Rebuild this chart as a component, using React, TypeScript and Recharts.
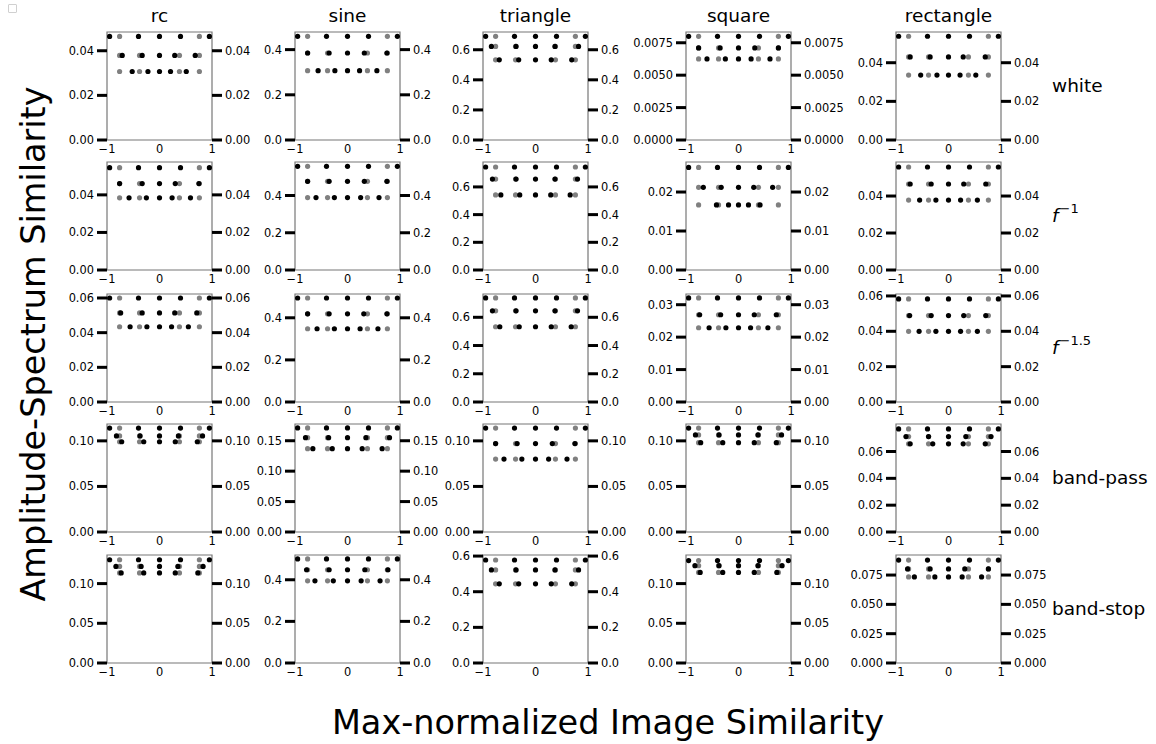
import { ScatterChart, Scatter, XAxis, YAxis, ReferenceArea } from 'recharts';

// waveform columns and noise-spectrum rows
const columns = ['rc', 'sine', 'triangle', 'square', 'rectangle'];
const rowNames = ['white', 'f^-1', 'f^-1.5', 'band-pass', 'band-stop'];

// y axis top per panel [row][col]
const yMax = [
    [0.0484, 0.478, 0.718, 0.00833, 0.0559],
    [0.0575, 0.58, 0.78, 0.0277, 0.0584],
    [0.0623, 0.513, 0.765, 0.0333, 0.0611],
    [0.1185, 0.1775, 0.1185, 0.1185, 0.0805],
    [0.136, 0.519, 0.606, 0.136, 0.0921],
];

const yTicks = [
    [[0, 0.02, 0.04], [0, 0.2, 0.4], [0, 0.2, 0.4, 0.6], [0, 0.0025, 0.005, 0.0075], [0, 0.02, 0.04]],
    [[0, 0.02, 0.04], [0, 0.2, 0.4], [0, 0.2, 0.4, 0.6], [0, 0.01, 0.02], [0, 0.02, 0.04]],
    [[0, 0.02, 0.04, 0.06], [0, 0.2, 0.4], [0, 0.2, 0.4, 0.6], [0, 0.01, 0.02, 0.03], [0, 0.02, 0.04, 0.06]],
    [[0, 0.05, 0.1], [0, 0.05, 0.1, 0.15], [0, 0.05, 0.1], [0, 0.05, 0.1], [0, 0.02, 0.04, 0.06]],
    [[0, 0.05, 0.1], [0, 0.2, 0.4], [0, 0.2, 0.4, 0.6], [0, 0.05, 0.1], [0, 0.025, 0.05, 0.075]],
];

const tickDecimals = [
    [2, 1, 1, 4, 2],
    [2, 1, 1, 2, 2],
    [2, 1, 1, 2, 2],
    [2, 2, 2, 2, 2],
    [2, 1, 1, 2, 3],
];

// similarity of the three dot rows (top, middle, bottom)
const levels = [
    [[0.0464, 0.0379, 0.0307], [0.459, 0.385, 0.307], [0.689, 0.622, 0.533], [0.008, 0.0071, 0.00625], [0.0537, 0.043, 0.0336]],
    [[0.0545, 0.046, 0.0384], [0.557, 0.476, 0.389], [0.744, 0.657, 0.542], [0.0263, 0.0212, 0.0167], [0.0557, 0.0465, 0.0378]],
    [[0.06, 0.0514, 0.0434], [0.494, 0.419, 0.348], [0.737, 0.646, 0.533], [0.0321, 0.0269, 0.0229], [0.0583, 0.0489, 0.04]],
    [[0.114, 0.1054, 0.099], [0.171, 0.155, 0.137], [0.114, 0.097, 0.08], [0.114, 0.1065, 0.098], [0.0768, 0.0711, 0.0657]],
    [[0.13, 0.1216, 0.1134], [0.5, 0.448, 0.395], [0.578, 0.522, 0.444], [0.129, 0.1225, 0.114], [0.0878, 0.0802, 0.0734]],
];

// x positions of the grey and black markers
const topBlackX = [-0.95, -0.4, 0, 0.4, 0.95];
const topGreyX = [-0.76, 0.76];
const greyX = [-0.76, -0.38, 0.38, 0.76];

const blackMidX = [
    [[-0.71, -0.33, 0, 0.29, 0.68], [-0.76, -0.35, 0, 0.32, 0.75], [-0.84, -0.37, 0, 0.37, 0.82], [-0.76, -0.35, 0, 0.31, 0.76], [-0.73, -0.35, 0, 0.28, 0.7]],
    [[-0.76, -0.33, 0, 0.3, 0.75], [-0.76, -0.35, 0, 0.32, 0.75], [-0.82, -0.37, 0, 0.37, 0.8], [-0.67, -0.33, 0, 0.29, 0.65], [-0.73, -0.33, 0, 0.29, 0.71]],
    [[-0.74, -0.33, 0, 0.29, 0.71], [-0.76, -0.35, 0, 0.31, 0.75], [-0.82, -0.37, 0, 0.37, 0.8], [-0.74, -0.34, 0, 0.3, 0.72], [-0.74, -0.33, 0, 0.29, 0.71]],
    [[-0.82, -0.37, 0, 0.36, 0.82], [-0.8, -0.36, 0, 0.35, 0.8], [-0.76, -0.35, 0, 0.32, 0.75], [-0.82, -0.37, 0, 0.37, 0.82], [-0.81, -0.38, 0, 0.33, 0.81]],
    [[-0.83, -0.35, 0, 0.35, 0.83], [-0.78, -0.35, 0, 0.33, 0.77], [-0.84, -0.37, 0, 0.37, 0.82], [-0.83, -0.37, 0, 0.37, 0.83], [-0.78, -0.35, 0, 0.31, 0.76]],
];

const blackLowX = [
    [[-0.52, -0.22, 0, 0.21, 0.51], [-0.56, -0.24, 0, 0.23, 0.56], [-0.69, -0.32, 0, 0.3, 0.69], [-0.6, -0.25, 0, 0.24, 0.6], [-0.53, -0.22, 0, 0.22, 0.52]],
    [[-0.58, -0.25, 0, 0.24, 0.59], [-0.6, -0.25, 0, 0.25, 0.6], [-0.66, -0.3, 0, 0.29, 0.66], [-0.42, -0.19, 0, 0.19, 0.41], [-0.55, -0.24, 0, 0.23, 0.55]],
    [[-0.56, -0.24, 0, 0.23, 0.55], [-0.58, -0.25, 0, 0.24, 0.58], [-0.68, -0.31, 0, 0.3, 0.68], [-0.56, -0.24, 0, 0.23, 0.56], [-0.56, -0.24, 0, 0.23, 0.55]],
    [[-0.72, -0.3, 0, 0.3, 0.72], [-0.66, -0.29, 0, 0.28, 0.66], [-0.6, -0.26, 0, 0.25, 0.6], [-0.72, -0.3, 0, 0.3, 0.72], [-0.73, -0.3, 0, 0.28, 0.7]],
    [[-0.73, -0.3, 0, 0.3, 0.73], [-0.62, -0.27, 0, 0.26, 0.62], [-0.69, -0.32, 0, 0.3, 0.69], [-0.73, -0.3, 0, 0.3, 0.73], [-0.65, -0.26, 0, 0.26, 0.63]],
];

const xTicks = [-1, 0, 1];

// panel placement (plot box corners)
const colLeft = [107, 295, 483, 686, 896];
const rowTop = [32, 162, 294, 424, 555];
const boxW = 105;
const boxH = 108;
const axisW = 60;
const padTop = 6;
const xAxisH = 24;

const FONT = 'DejaVu Sans, sans-serif';
const TICK_PX = 11.4;

const fmtX = (v: number) => (v < 0 ? `\u2212${Math.abs(v)}` : `${v}`);

const dot = (color: string) => (p: any) => <circle cx={p.cx} cy={p.cy} r={2.6} fill={color} />;

// tick labels drawn by hand so the font size sticks
const yTick = (fmt: (v: number) => string) => (p: any) => (
    <text
        x={p.x}
        y={p.y}
        textAnchor={p.textAnchor}
        dominantBaseline="central"
        fontSize={TICK_PX}
        fontFamily={FONT}
        fill="#000"
    >
        {fmt(p.payload.value)}
    </text>
);

const xTick = (p: any) => (
    <text x={p.x} y={p.y} textAnchor="middle" dy="0.78em" fontSize={TICK_PX} fontFamily={FONT} fill="#000">
        {fmtX(p.payload.value)}
    </text>
);

const Panel = ({ r, c }: { r: number; c: number }) => {
    const [yTop, yMid, yLow] = levels[r][c];
    const grey = [
        ...topGreyX.map((x) => ({ x, y: yTop })),
        ...greyX.map((x) => ({ x, y: yMid })),
        ...greyX.map((x) => ({ x, y: yLow })),
    ];
    const black = [
        ...topBlackX.map((x) => ({ x, y: yTop })),
        ...blackMidX[r][c].map((x) => ({ x, y: yMid })),
        ...blackLowX[r][c].map((x) => ({ x, y: yLow })),
    ];
    const d = tickDecimals[r][c];
    const fmtY = (v: number) => v.toFixed(d);
    const yAxisProps = {
        type: 'number' as const,
        dataKey: 'y',
        domain: [0, yMax[r][c]],
        ticks: yTicks[r][c],
        width: axisW,
        tickSize: 10,
        tickMargin: 3,
        tickLine: { stroke: '#000', strokeWidth: 3 },
        axisLine: false,
        tick: yTick(fmtY),
        allowDataOverflow: true,
        interval: 0 as const,
    };

    return (
        <div style={{ position: 'absolute', left: colLeft[c] - axisW, top: rowTop[r] - padTop }}>
            <ScatterChart
                width={axisW * 2 + boxW}
                height={padTop + boxH + xAxisH}
                margin={{ top: padTop, right: 0, bottom: 0, left: 0 }}
            >
                <XAxis
                    type="number"
                    dataKey="x"
                    domain={[-1, 1]}
                    ticks={xTicks}
                    tickLine={false}
                    axisLine={false}
                    height={xAxisH}
                    tickSize={2}
                    tickMargin={2}
                    tick={xTick}
                    allowDataOverflow
                    interval={0}
                />
                <YAxis yAxisId="l" {...yAxisProps} />
                <YAxis yAxisId="r" orientation="right" {...yAxisProps} />
                <ReferenceArea
                    yAxisId="l"
                    x1={-1}
                    x2={1}
                    y1={0}
                    y2={yMax[r][c]}
                    fill="none"
                    fillOpacity={0}
                    stroke="#777"
                    strokeWidth={1.2}
                />
                <Scatter yAxisId="l" data={grey} shape={dot('#808080')} isAnimationActive={false} />
                <Scatter yAxisId="l" data={black} shape={dot('#000')} isAnimationActive={false} />
            </ScatterChart>
        </div>
    );
};

const RowLabel = ({ name }: { name: string }) => {
    if (name.startsWith('f^')) {
        return (
            <span>
                <span style={{ fontStyle: 'italic' }}>f</span>
                <span style={{ fontSize: 13, position: 'relative', top: -9, marginLeft: 1 }}>
                    {name.slice(2).replace('-', '\u2212')}
                </span>
            </span>
        );
    }
    return <span>{name}</span>;
};

export default function App() {
    return (
        <div
            style={{
                position: 'absolute',
                left: 0,
                top: 0,
                width: 1156,
                height: 744,
                background: '#fff',
                fontFamily: FONT,
                color: '#000',
                overflow: 'hidden',
            }}
        >
            {/* empty legend handle */}
            <div
                style={{
                    position: 'absolute',
                    left: 8,
                    top: 4,
                    width: 7,
                    height: 7,
                    border: '1px solid #d0d0d0',
                    borderRadius: 1,
                }}
            />

            {columns.map((name, c) => (
                <div
                    key={name}
                    style={{
                        position: 'absolute',
                        left: colLeft[c] + boxW / 2,
                        top: 15,
                        transform: 'translate(-50%, -50%)',
                        fontSize: 18.5,
                        whiteSpace: 'nowrap',
                    }}
                >
                    {name}
                </div>
            ))}

            {rowNames.map((name, r) => (
                <div
                    key={name}
                    style={{
                        position: 'absolute',
                        left: 1052,
                        top: rowTop[r] + boxH / 2 - 1,
                        transform: 'translateY(-50%)',
                        fontSize: 18.5,
                        whiteSpace: 'nowrap',
                    }}
                >
                    <RowLabel name={name} />
                </div>
            ))}

            {rowNames.map((_, r) => columns.map((_, c) => <Panel key={`${r}-${c}`} r={r} c={c} />))}

            <div
                style={{
                    position: 'absolute',
                    left: 33,
                    top: 344,
                    transform: 'translate(-50%, -50%) rotate(-90deg)',
                    fontSize: 33.5,
                    whiteSpace: 'nowrap',
                }}
            >
                Amplitude-Spectrum Similarity
            </div>
            <div
                style={{
                    position: 'absolute',
                    left: 608,
                    top: 722,
                    transform: 'translate(-50%, -50%)',
                    fontSize: 33.5,
                    whiteSpace: 'nowrap',
                }}
            >
                Max-normalized Image Similarity
            </div>
        </div>
    );
}
